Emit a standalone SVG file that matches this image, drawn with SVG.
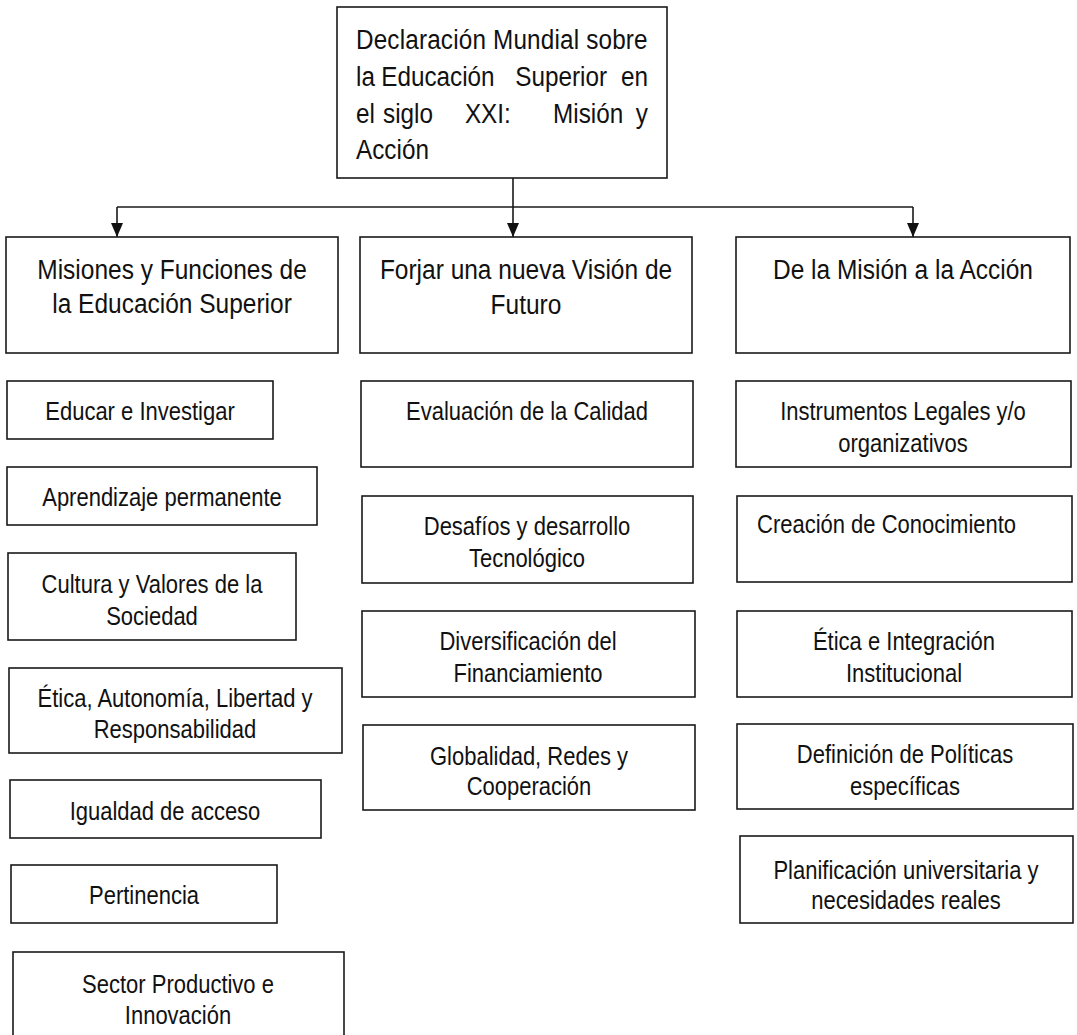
<svg xmlns="http://www.w3.org/2000/svg" width="1077" height="1035" viewBox="0 0 1077 1035">
<style>
.box{fill:#fff;stroke:#1a1a1a;stroke-width:1.6}
.t{font-family:"Liberation Sans",Arial,sans-serif;fill:#111}
.h{font-size:28px;text-anchor:middle}
.c{font-size:25px;text-anchor:middle}
.l{font-size:25px}
.top{font-size:27px}
.conn{fill:none;stroke:#1a1a1a;stroke-width:1.6}
</style>
<defs>
<marker id="arr" markerWidth="12" markerHeight="14" refX="6" refY="14" orient="0" markerUnits="userSpaceOnUse">
<path d="M0,0 L12,0 L6,14 Z" fill="#111"/>
</marker>
</defs>
<rect x="0" y="0" width="1077" height="1035" fill="#fff"/>

<g id="connectors">
<path class="conn" d="M513,178 V207"/>
<path class="conn" d="M117,207 H913"/>
<path class="conn" d="M117,207 V237" marker-end="url(#arr)"/>
<path class="conn" d="M513,207 V237" marker-end="url(#arr)"/>
<path class="conn" d="M913,207 V237" marker-end="url(#arr)"/>
</g>

<g id="root">
<rect class="box" x="337" y="7" width="330" height="171"/>
<g transform="translate(356,0) scale(0.9,1)">
<text class="t top" x="0" y="49" textLength="324" lengthAdjust="spacing">Declaración Mundial sobre</text>
<text class="t top" y="86"><tspan x="0">la</tspan><tspan x="28">Educación</tspan><tspan x="177">Superior</tspan><tspan x="324.4" text-anchor="end">en</tspan></text>
<text class="t top" y="123"><tspan x="0">el</tspan><tspan x="30">siglo</tspan><tspan x="121">XXI:</tspan><tspan x="219">Misión</tspan><tspan x="324.4" text-anchor="end">y</tspan></text>
<text class="t top" x="0" y="159">Acción</text>
</g>
</g>

<g id="h-misiones">
<rect class="box" x="6" y="237" width="332" height="116"/>
<g transform="translate(172,0) scale(0.875,1)">
<text class="t h" x="0" y="279">Misiones y Funciones de</text>
<text class="t h" x="0" y="313">la Educación Superior</text>
</g>
</g>
<g id="h-forjar">
<rect class="box" x="360" y="237" width="332" height="116"/>
<g transform="translate(526,0) scale(0.875,1)">
<text class="t h" x="0" y="279">Forjar una nueva Visión de</text>
<text class="t h" x="0" y="314">Futuro</text>
</g>
</g>
<g id="h-accion">
<rect class="box" x="736" y="237" width="334" height="116"/>
<g transform="translate(903,0) scale(0.875,1)">
<text class="t h" x="0" y="279">De la Misión a la Acción</text>
</g>
</g>

<g id="m1">
<rect class="box" x="7" y="381" width="266" height="58"/>
<g transform="translate(140,0) scale(0.88,1)"><text class="t c" x="0" y="420">Educar e Investigar</text></g>
</g>
<g id="m2">
<rect class="box" x="7" y="467" width="310" height="58"/>
<g transform="translate(162,0) scale(0.88,1)"><text class="t c" x="0" y="506">Aprendizaje permanente</text></g>
</g>
<g id="m3">
<rect class="box" x="8" y="553" width="288" height="87"/>
<g transform="translate(152,0) scale(0.88,1)">
<text class="t c" x="0" y="593">Cultura y Valores de la</text>
<text class="t c" x="0" y="625">Sociedad</text>
</g>
</g>
<g id="m4">
<rect class="box" x="9" y="668" width="333" height="85"/>
<g transform="translate(175,0) scale(0.88,1)">
<text class="t c" x="0" y="707">Ética, Autonomía, Libertad y</text>
<text class="t c" x="0" y="738">Responsabilidad</text>
</g>
</g>
<g id="m5">
<rect class="box" x="10" y="780" width="311" height="58"/>
<g transform="translate(165,0) scale(0.88,1)"><text class="t c" x="0" y="820">Igualdad de acceso</text></g>
</g>
<g id="m6">
<rect class="box" x="11" y="865" width="266" height="58"/>
<g transform="translate(144,0) scale(0.88,1)"><text class="t c" x="0" y="904">Pertinencia</text></g>
</g>
<g id="m7">
<rect class="box" x="13" y="952" width="331" height="95"/>
<g transform="translate(178,0) scale(0.88,1)">
<text class="t c" x="0" y="993">Sector Productivo e</text>
<text class="t c" x="0" y="1024">Innovación</text>
</g>
</g>

<g id="f1">
<rect class="box" x="361" y="381" width="332" height="86"/>
<g transform="translate(527,0) scale(0.88,1)"><text class="t c" x="0" y="420">Evaluación de la Calidad</text></g>
</g>
<g id="f2">
<rect class="box" x="362" y="496" width="331" height="87"/>
<g transform="translate(527,0) scale(0.88,1)">
<text class="t c" x="0" y="535">Desafíos y desarrollo</text>
<text class="t c" x="0" y="567">Tecnológico</text>
</g>
</g>
<g id="f3">
<rect class="box" x="362" y="611" width="333" height="86"/>
<g transform="translate(528,0) scale(0.88,1)">
<text class="t c" x="0" y="650">Diversificación del</text>
<text class="t c" x="0" y="682">Financiamiento</text>
</g>
</g>
<g id="f4">
<rect class="box" x="363" y="725" width="332" height="85"/>
<g transform="translate(529,0) scale(0.88,1)">
<text class="t c" x="0" y="765">Globalidad, Redes y</text>
<text class="t c" x="0" y="795">Cooperación</text>
</g>
</g>

<g id="a1">
<rect class="box" x="736" y="381" width="335" height="86"/>
<g transform="translate(903,0) scale(0.88,1)">
<text class="t c" x="0" y="420">Instrumentos Legales y/o</text>
<text class="t c" x="0" y="452">organizativos</text>
</g>
</g>
<g id="a2">
<rect class="box" x="737" y="496" width="335" height="86"/>
<g transform="translate(757,0) scale(0.88,1)"><text class="t l" x="0" y="533">Creación de Conocimiento</text></g>
</g>
<g id="a3">
<rect class="box" x="737" y="611" width="335" height="86"/>
<g transform="translate(904,0) scale(0.88,1)">
<text class="t c" x="0" y="650">Ética e Integración</text>
<text class="t c" x="0" y="682">Institucional</text>
</g>
</g>
<g id="a4">
<rect class="box" x="737" y="724" width="336" height="85"/>
<g transform="translate(905,0) scale(0.88,1)">
<text class="t c" x="0" y="763">Definición de Políticas</text>
<text class="t c" x="0" y="795">específicas</text>
</g>
</g>
<g id="a5">
<rect class="box" x="740" y="836" width="333" height="87"/>
<g transform="translate(906,0) scale(0.88,1)">
<text class="t c" x="0" y="879">Planificación universitaria y</text>
<text class="t c" x="0" y="909">necesidades reales</text>
</g>
</g>
</svg>
